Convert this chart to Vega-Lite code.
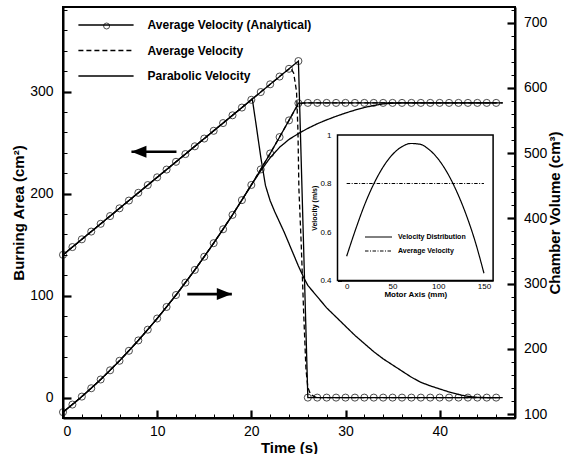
{
  "$schema": "https://vega.github.io/schema/vega-lite/v6.json",
  "width": 452,
  "height": 411,
  "autosize": {"type": "none"},
  "padding": {"left": 63, "top": 7, "right": 54, "bottom": 36},
  "background": "white",
  "config": {
    "font": "Liberation Sans",
    "view": {"stroke": "black", "strokeWidth": 2},
    "axis": {"domainColor": "black", "tickColor": "black", "labelColor": "black", "titleColor": "black", "grid": false}
  },
  "datasets": {
    "area": [
      {"series": "Average Velocity (Analytical)", "t": 0, "A": 140},
      {"series": "Average Velocity (Analytical)", "t": 1, "A": 147.6},
      {"series": "Average Velocity (Analytical)", "t": 2, "A": 155.2},
      {"series": "Average Velocity (Analytical)", "t": 3, "A": 162.8},
      {"series": "Average Velocity (Analytical)", "t": 4, "A": 170.4},
      {"series": "Average Velocity (Analytical)", "t": 5, "A": 178},
      {"series": "Average Velocity (Analytical)", "t": 6, "A": 185.6},
      {"series": "Average Velocity (Analytical)", "t": 7, "A": 193.2},
      {"series": "Average Velocity (Analytical)", "t": 8, "A": 200.8},
      {"series": "Average Velocity (Analytical)", "t": 9, "A": 208.4},
      {"series": "Average Velocity (Analytical)", "t": 10, "A": 216},
      {"series": "Average Velocity (Analytical)", "t": 11, "A": 223.6},
      {"series": "Average Velocity (Analytical)", "t": 12, "A": 231.2},
      {"series": "Average Velocity (Analytical)", "t": 13, "A": 238.8},
      {"series": "Average Velocity (Analytical)", "t": 14, "A": 246.4},
      {"series": "Average Velocity (Analytical)", "t": 15, "A": 254},
      {"series": "Average Velocity (Analytical)", "t": 16, "A": 261.6},
      {"series": "Average Velocity (Analytical)", "t": 17, "A": 269.2},
      {"series": "Average Velocity (Analytical)", "t": 18, "A": 276.8},
      {"series": "Average Velocity (Analytical)", "t": 19, "A": 284.4},
      {"series": "Average Velocity (Analytical)", "t": 20, "A": 292},
      {"series": "Average Velocity (Analytical)", "t": 21, "A": 299.6},
      {"series": "Average Velocity (Analytical)", "t": 22, "A": 307.2},
      {"series": "Average Velocity (Analytical)", "t": 23, "A": 314.8},
      {"series": "Average Velocity (Analytical)", "t": 24, "A": 322.4},
      {"series": "Average Velocity (Analytical)", "t": 25, "A": 330},
      {"series": "Average Velocity (Analytical)", "t": 26, "A": 0},
      {"series": "Average Velocity (Analytical)", "t": 27, "A": 0},
      {"series": "Average Velocity (Analytical)", "t": 28, "A": 0},
      {"series": "Average Velocity (Analytical)", "t": 29, "A": 0},
      {"series": "Average Velocity (Analytical)", "t": 30, "A": 0},
      {"series": "Average Velocity (Analytical)", "t": 31, "A": 0},
      {"series": "Average Velocity (Analytical)", "t": 32, "A": 0},
      {"series": "Average Velocity (Analytical)", "t": 33, "A": 0},
      {"series": "Average Velocity (Analytical)", "t": 34, "A": 0},
      {"series": "Average Velocity (Analytical)", "t": 35, "A": 0},
      {"series": "Average Velocity (Analytical)", "t": 36, "A": 0},
      {"series": "Average Velocity (Analytical)", "t": 37, "A": 0},
      {"series": "Average Velocity (Analytical)", "t": 38, "A": 0},
      {"series": "Average Velocity (Analytical)", "t": 39, "A": 0},
      {"series": "Average Velocity (Analytical)", "t": 40, "A": 0},
      {"series": "Average Velocity (Analytical)", "t": 41, "A": 0},
      {"series": "Average Velocity (Analytical)", "t": 42, "A": 0},
      {"series": "Average Velocity (Analytical)", "t": 43, "A": 0},
      {"series": "Average Velocity (Analytical)", "t": 44, "A": 0},
      {"series": "Average Velocity (Analytical)", "t": 45, "A": 0},
      {"series": "Average Velocity (Analytical)", "t": 46, "A": 0},
      {"series": "Average Velocity", "t": 0, "A": 140},
      {"series": "Average Velocity", "t": 23.8, "A": 320.9},
      {"series": "Average Velocity", "t": 24.2, "A": 323},
      {"series": "Average Velocity", "t": 24.5, "A": 318},
      {"series": "Average Velocity", "t": 24.8, "A": 300},
      {"series": "Average Velocity", "t": 24.95, "A": 262},
      {"series": "Average Velocity", "t": 25.05, "A": 205},
      {"series": "Average Velocity", "t": 25.3, "A": 150},
      {"series": "Average Velocity", "t": 25.55, "A": 85},
      {"series": "Average Velocity", "t": 25.8, "A": 28},
      {"series": "Average Velocity", "t": 26, "A": 10},
      {"series": "Average Velocity", "t": 26.3, "A": 3},
      {"series": "Average Velocity", "t": 26.8, "A": 0.5},
      {"series": "Average Velocity", "t": 27.2, "A": 0},
      {"series": "Average Velocity", "t": 46.7, "A": 0},
      {"series": "Parabolic Velocity", "t": 0, "A": 140},
      {"series": "Parabolic Velocity", "t": 20, "A": 292},
      {"series": "Parabolic Velocity", "t": 20.1, "A": 293},
      {"series": "Parabolic Velocity", "t": 20.5, "A": 268},
      {"series": "Parabolic Velocity", "t": 21, "A": 236},
      {"series": "Parabolic Velocity", "t": 21.5, "A": 208},
      {"series": "Parabolic Velocity", "t": 22, "A": 193},
      {"series": "Parabolic Velocity", "t": 22.5, "A": 182},
      {"series": "Parabolic Velocity", "t": 23, "A": 172},
      {"series": "Parabolic Velocity", "t": 23.5, "A": 162},
      {"series": "Parabolic Velocity", "t": 24, "A": 151},
      {"series": "Parabolic Velocity", "t": 24.5, "A": 140},
      {"series": "Parabolic Velocity", "t": 25, "A": 129},
      {"series": "Parabolic Velocity", "t": 25.6, "A": 117},
      {"series": "Parabolic Velocity", "t": 26, "A": 110},
      {"series": "Parabolic Velocity", "t": 27, "A": 99},
      {"series": "Parabolic Velocity", "t": 28, "A": 88},
      {"series": "Parabolic Velocity", "t": 29, "A": 79},
      {"series": "Parabolic Velocity", "t": 30, "A": 70},
      {"series": "Parabolic Velocity", "t": 31, "A": 61},
      {"series": "Parabolic Velocity", "t": 32, "A": 53},
      {"series": "Parabolic Velocity", "t": 33, "A": 45},
      {"series": "Parabolic Velocity", "t": 34, "A": 38},
      {"series": "Parabolic Velocity", "t": 35, "A": 32},
      {"series": "Parabolic Velocity", "t": 36, "A": 26},
      {"series": "Parabolic Velocity", "t": 37, "A": 20},
      {"series": "Parabolic Velocity", "t": 38, "A": 15},
      {"series": "Parabolic Velocity", "t": 39, "A": 11.5},
      {"series": "Parabolic Velocity", "t": 40, "A": 8.5},
      {"series": "Parabolic Velocity", "t": 41, "A": 5.5},
      {"series": "Parabolic Velocity", "t": 42, "A": 3},
      {"series": "Parabolic Velocity", "t": 43, "A": 1.2},
      {"series": "Parabolic Velocity", "t": 44, "A": 0.3},
      {"series": "Parabolic Velocity", "t": 45, "A": 0},
      {"series": "Parabolic Velocity", "t": 46.7, "A": 0}
    ],
    "volume": [
      {"series": "Average Velocity (Analytical)", "t": 0, "V": 103},
      {"series": "Average Velocity (Analytical)", "t": 1, "V": 114.6},
      {"series": "Average Velocity (Analytical)", "t": 2, "V": 126.8},
      {"series": "Average Velocity (Analytical)", "t": 3, "V": 139.6},
      {"series": "Average Velocity (Analytical)", "t": 4, "V": 153},
      {"series": "Average Velocity (Analytical)", "t": 5, "V": 167.1},
      {"series": "Average Velocity (Analytical)", "t": 6, "V": 181.7},
      {"series": "Average Velocity (Analytical)", "t": 7, "V": 197},
      {"series": "Average Velocity (Analytical)", "t": 8, "V": 212.9},
      {"series": "Average Velocity (Analytical)", "t": 9, "V": 229.4},
      {"series": "Average Velocity (Analytical)", "t": 10, "V": 246.5},
      {"series": "Average Velocity (Analytical)", "t": 11, "V": 264.2},
      {"series": "Average Velocity (Analytical)", "t": 12, "V": 282.5},
      {"series": "Average Velocity (Analytical)", "t": 13, "V": 301.5},
      {"series": "Average Velocity (Analytical)", "t": 14, "V": 321},
      {"series": "Average Velocity (Analytical)", "t": 15, "V": 341.2},
      {"series": "Average Velocity (Analytical)", "t": 16, "V": 362},
      {"series": "Average Velocity (Analytical)", "t": 17, "V": 383.3},
      {"series": "Average Velocity (Analytical)", "t": 18, "V": 405.3},
      {"series": "Average Velocity (Analytical)", "t": 19, "V": 428},
      {"series": "Average Velocity (Analytical)", "t": 20, "V": 451.2},
      {"series": "Average Velocity (Analytical)", "t": 21, "V": 475},
      {"series": "Average Velocity (Analytical)", "t": 22, "V": 499.5},
      {"series": "Average Velocity (Analytical)", "t": 23, "V": 524.6},
      {"series": "Average Velocity (Analytical)", "t": 24, "V": 550.2},
      {"series": "Average Velocity (Analytical)", "t": 25, "V": 576.5},
      {"series": "Average Velocity (Analytical)", "t": 26, "V": 577},
      {"series": "Average Velocity (Analytical)", "t": 27, "V": 577},
      {"series": "Average Velocity (Analytical)", "t": 28, "V": 577},
      {"series": "Average Velocity (Analytical)", "t": 29, "V": 577},
      {"series": "Average Velocity (Analytical)", "t": 30, "V": 577},
      {"series": "Average Velocity (Analytical)", "t": 31, "V": 577},
      {"series": "Average Velocity (Analytical)", "t": 32, "V": 577},
      {"series": "Average Velocity (Analytical)", "t": 33, "V": 577},
      {"series": "Average Velocity (Analytical)", "t": 34, "V": 577},
      {"series": "Average Velocity (Analytical)", "t": 35, "V": 577},
      {"series": "Average Velocity (Analytical)", "t": 36, "V": 577},
      {"series": "Average Velocity (Analytical)", "t": 37, "V": 577},
      {"series": "Average Velocity (Analytical)", "t": 38, "V": 577},
      {"series": "Average Velocity (Analytical)", "t": 39, "V": 577},
      {"series": "Average Velocity (Analytical)", "t": 40, "V": 577},
      {"series": "Average Velocity (Analytical)", "t": 41, "V": 577},
      {"series": "Average Velocity (Analytical)", "t": 42, "V": 577},
      {"series": "Average Velocity (Analytical)", "t": 43, "V": 577},
      {"series": "Average Velocity (Analytical)", "t": 44, "V": 577},
      {"series": "Average Velocity (Analytical)", "t": 45, "V": 577},
      {"series": "Average Velocity (Analytical)", "t": 46, "V": 577},
      {"series": "Average Velocity", "t": 0, "V": 103},
      {"series": "Average Velocity", "t": 2, "V": 126.8},
      {"series": "Average Velocity", "t": 4, "V": 153},
      {"series": "Average Velocity", "t": 6, "V": 181.7},
      {"series": "Average Velocity", "t": 8, "V": 212.9},
      {"series": "Average Velocity", "t": 10, "V": 246.5},
      {"series": "Average Velocity", "t": 12, "V": 282.5},
      {"series": "Average Velocity", "t": 14, "V": 321},
      {"series": "Average Velocity", "t": 16, "V": 362},
      {"series": "Average Velocity", "t": 18, "V": 405.3},
      {"series": "Average Velocity", "t": 20, "V": 451.2},
      {"series": "Average Velocity", "t": 22, "V": 499.5},
      {"series": "Average Velocity", "t": 24, "V": 550.2},
      {"series": "Average Velocity", "t": 24.5, "V": 563},
      {"series": "Average Velocity", "t": 25, "V": 574.5},
      {"series": "Average Velocity", "t": 25.5, "V": 577},
      {"series": "Average Velocity", "t": 46.7, "V": 577},
      {"series": "Parabolic Velocity", "t": 0, "V": 103},
      {"series": "Parabolic Velocity", "t": 2, "V": 126.8},
      {"series": "Parabolic Velocity", "t": 4, "V": 153},
      {"series": "Parabolic Velocity", "t": 6, "V": 181.7},
      {"series": "Parabolic Velocity", "t": 8, "V": 212.9},
      {"series": "Parabolic Velocity", "t": 10, "V": 246.5},
      {"series": "Parabolic Velocity", "t": 12, "V": 282.5},
      {"series": "Parabolic Velocity", "t": 14, "V": 321},
      {"series": "Parabolic Velocity", "t": 16, "V": 362},
      {"series": "Parabolic Velocity", "t": 18, "V": 405.3},
      {"series": "Parabolic Velocity", "t": 20, "V": 451.2},
      {"series": "Parabolic Velocity", "t": 21, "V": 473},
      {"series": "Parabolic Velocity", "t": 22, "V": 493},
      {"series": "Parabolic Velocity", "t": 23, "V": 509},
      {"series": "Parabolic Velocity", "t": 24, "V": 521},
      {"series": "Parabolic Velocity", "t": 25, "V": 530},
      {"series": "Parabolic Velocity", "t": 26, "V": 538},
      {"series": "Parabolic Velocity", "t": 27, "V": 545},
      {"series": "Parabolic Velocity", "t": 28, "V": 551},
      {"series": "Parabolic Velocity", "t": 29, "V": 556.5},
      {"series": "Parabolic Velocity", "t": 30, "V": 561.5},
      {"series": "Parabolic Velocity", "t": 31, "V": 566},
      {"series": "Parabolic Velocity", "t": 32, "V": 570},
      {"series": "Parabolic Velocity", "t": 33, "V": 573},
      {"series": "Parabolic Velocity", "t": 34, "V": 575.5},
      {"series": "Parabolic Velocity", "t": 35, "V": 576.5},
      {"series": "Parabolic Velocity", "t": 36, "V": 577},
      {"series": "Parabolic Velocity", "t": 46.7, "V": 577}
    ],
    "arrows": [
      {"dir": "left", "tail": 12.05, "tip": 7.27, "A": 241},
      {"dir": "right", "tail": 13.2, "tip": 17.93, "A": 101.5}
    ],
    "inset": [
      {"curve": "Velocity Distribution", "x": 0, "v": 0.5},
      {"curve": "Velocity Distribution", "x": 10, "v": 0.613},
      {"curve": "Velocity Distribution", "x": 20, "v": 0.716},
      {"curve": "Velocity Distribution", "x": 30, "v": 0.801},
      {"curve": "Velocity Distribution", "x": 40, "v": 0.869},
      {"curve": "Velocity Distribution", "x": 50, "v": 0.919},
      {"curve": "Velocity Distribution", "x": 60, "v": 0.951},
      {"curve": "Velocity Distribution", "x": 70, "v": 0.965},
      {"curve": "Velocity Distribution", "x": 80, "v": 0.962},
      {"curve": "Velocity Distribution", "x": 90, "v": 0.94},
      {"curve": "Velocity Distribution", "x": 100, "v": 0.901},
      {"curve": "Velocity Distribution", "x": 110, "v": 0.844},
      {"curve": "Velocity Distribution", "x": 120, "v": 0.769},
      {"curve": "Velocity Distribution", "x": 130, "v": 0.677},
      {"curve": "Velocity Distribution", "x": 140, "v": 0.566},
      {"curve": "Velocity Distribution", "x": 150, "v": 0.43},
      {"curve": "Average Velocity", "x": 0, "v": 0.8},
      {"curve": "Average Velocity", "x": 150, "v": 0.8}
    ],
    "box": [{"x0": -10, "x1": 160, "v0": 0.4, "v1": 1}]
  },
  "layer": [
    {
      "data": {"name": "area"},
      "mark": {"type": "line", "color": "black", "strokeWidth": 1.3},
      "encoding": {
        "x": {"field": "t", "type": "quantitative", "scale": {"domain": [0, 48], "nice": false, "zero": false},
          "axis": {"title": "Time (s)", "values": [0,2,4,6,8,10,12,14,16,18,20,22,24,26,28,30,32,34,36,38,40,42,44,46,48],
            "labelExpr": "datum.value % 10 === 0 ? datum.label : ''",
            "tickSize": {"condition": {"test": "datum.value % 10 === 0", "value": -8}, "value": -4},
            "tickWidth": {"condition": {"test": "datum.value % 10 === 0", "value": 2.2}, "value": 1},
            "domainWidth": 2, "labelFontSize": 14, "labelPadding": 14,
            "titleFontSize": 15, "titleFontWeight": "bold", "titlePadding": 2}},
        "y": {"field": "A", "type": "quantitative", "scale": {"domain": [-20, 383], "nice": false, "zero": false},
          "axis": {"title": "Burning Area (cm²)", "values": [-20,0,20,40,60,80,100,120,140,160,180,200,220,240,260,280,300,320,340,360,380],
            "labelExpr": "datum.value % 100 === 0 ? datum.label : ''",
            "tickSize": {"condition": {"test": "datum.value % 100 === 0", "value": -8}, "value": -4},
            "tickWidth": {"condition": {"test": "datum.value % 100 === 0", "value": 2.2}, "value": 1},
            "domainWidth": 2, "labelFontSize": 14, "labelPadding": 18,
            "titleFontSize": 15, "titleFontWeight": "bold", "titlePadding": 3}},
        "strokeDash": {"field": "series", "type": "nominal",
          "scale": {"domain": ["Average Velocity (Analytical)", "Average Velocity", "Parabolic Velocity"], "range": [[1, 0], [5, 3], [1, 0]]},
          "legend": {"title": null, "orient": "none", "legendX": 36, "legendY": 11, "direction": "vertical", "padding": 0, "rowPadding": 12.5,
            "symbolType": "M-4.6,0L4.6,0", "symbolSize": 144, "symbolStrokeWidth": 1.3, "symbolStrokeColor": "black", "symbolFillColor": "transparent",
            "labelFontSize": 12, "labelFontWeight": "bold", "labelOffset": 34.6, "labelColor": "black", "labelLimit": 300}}
      }
    },
    {
      "data": {"name": "area"},
      "transform": [{"filter": "datum.series === 'Average Velocity (Analytical)'"}],
      "mark": {"type": "point", "filled": false, "color": "black", "size": 50, "strokeWidth": 1},
      "encoding": {
        "x": {"field": "t", "type": "quantitative", "scale": {"domain": [0, 48], "nice": false, "zero": false}, "axis": null},
        "y": {"field": "A", "type": "quantitative", "scale": {"domain": [-20, 383], "nice": false, "zero": false}, "axis": null},
        "shape": {"field": "series", "type": "nominal", "scale": {"domain": ["Average Velocity (Analytical)"], "range": ["circle"]},
          "legend": {"title": null, "orient": "none", "legendX": 38.6, "legendY": 14, "padding": 0, "labelExpr": "''",
            "symbolSize": 36, "symbolStrokeWidth": 1, "symbolStrokeColor": "black", "symbolFillColor": "white"}}
      }
    },
    {
      "data": {"name": "arrows"},
      "mark": {"type": "rule", "color": "black", "strokeWidth": 2.6},
      "encoding": {
        "x": {"field": "tail", "type": "quantitative", "scale": {"domain": [0, 48], "nice": false, "zero": false}, "axis": null},
        "x2": {"field": "tip"},
        "y": {"field": "A", "type": "quantitative", "scale": {"domain": [-20, 383], "nice": false, "zero": false}, "axis": null}
      }
    },
    {
      "data": {"name": "arrows"},
      "mark": {"type": "point", "filled": true, "color": "black", "size": 225, "opacity": 1, "strokeWidth": 0},
      "encoding": {
        "x": {"field": "tip", "type": "quantitative", "scale": {"domain": [0, 48], "nice": false, "zero": false}, "axis": null},
        "y": {"field": "A", "type": "quantitative", "scale": {"domain": [-20, 383], "nice": false, "zero": false}, "axis": null},
        "shape": {"field": "dir", "type": "nominal", "scale": {"domain": ["left", "right"], "range": ["M0,0L2,-0.8L2,0.8Z", "M0,0L-2,-0.8L-2,0.8Z"]}, "legend": null}
      }
    },
    {
      "data": {"name": "volume"},
      "mark": {"type": "line", "color": "black", "strokeWidth": 1.3},
      "encoding": {
        "x": {"field": "t", "type": "quantitative", "scale": {"domain": [0, 48], "nice": false, "zero": false}, "axis": null},
        "y": {"field": "V", "type": "quantitative", "scale": {"domain": [94, 724], "nice": false, "zero": false},
          "axis": {"orient": "right", "title": "Chamber Volume (cm³)", "values": [100,120,140,160,180,200,220,240,260,280,300,320,340,360,380,400,420,440,460,480,500,520,540,560,580,600,620,640,660,680,700,720],
            "labelExpr": "datum.value % 100 === 0 ? datum.label : ''",
            "tickSize": {"condition": {"test": "datum.value % 100 === 0", "value": -8}, "value": -4},
            "tickWidth": {"condition": {"test": "datum.value % 100 === 0", "value": 2.2}, "value": 1},
            "domainWidth": 2, "labelFontSize": 14, "labelPadding": 16.5,
            "titleFontSize": 15, "titleFontWeight": "bold", "titleAngle": 270, "titleBaseline": "top", "titlePadding": 1}},
        "strokeDash": {"field": "series", "type": "nominal",
          "scale": {"domain": ["Average Velocity (Analytical)", "Average Velocity", "Parabolic Velocity"], "range": [[1, 0], [5, 3], [1, 0]]},
          "legend": null}
      }
    },
    {
      "data": {"name": "volume"},
      "transform": [{"filter": "datum.series === 'Average Velocity (Analytical)'"}],
      "mark": {"type": "point", "shape": "circle", "filled": false, "color": "black", "size": 50, "strokeWidth": 1},
      "encoding": {
        "x": {"field": "t", "type": "quantitative", "scale": {"domain": [0, 48], "nice": false, "zero": false}, "axis": null},
        "y": {"field": "V", "type": "quantitative", "scale": {"domain": [94, 724], "nice": false, "zero": false}, "axis": null}
      }
    },
    {
      "data": {"name": "box"},
      "mark": {"type": "rect", "fill": "white", "stroke": "black", "strokeWidth": 1.5},
      "encoding": {
        "x": {"field": "x0", "type": "quantitative", "scale": {"domain": [-10, 160], "range": [274.5, 430.1], "nice": false, "zero": false}, "axis": null},
        "x2": {"field": "x1"},
        "y": {"field": "v0", "type": "quantitative", "scale": {"domain": [0.4, 1], "range": [273.5, 128], "nice": false, "zero": false}, "axis": null},
        "y2": {"field": "v1"}
      }
    },
    {
      "data": {"name": "inset"},
      "mark": {"type": "line", "color": "black", "strokeWidth": 1.2, "interpolate": "monotone"},
      "encoding": {
        "x": {"field": "x", "type": "quantitative", "scale": {"domain": [-10, 160], "range": [274.5, 430.1], "nice": false, "zero": false},
          "axis": {"orient": "bottom", "offset": -137.5, "title": "Motor Axis (mm)", "values": [0,12.5,25,37.5,50,62.5,75,87.5,100,112.5,125,137.5,150],
            "labelExpr": "datum.value % 50 === 0 ? datum.label : ''",
            "tickSize": {"condition": {"test": "datum.value % 50 === 0", "value": -4}, "value": -2},
            "tickWidth": 1, "domainWidth": 1.5, "labelFontSize": 8, "labelPadding": 5.5,
            "titleFontSize": 8, "titleFontWeight": "bold", "titlePadding": 0}},
        "y": {"field": "v", "type": "quantitative", "scale": {"domain": [0.4, 1], "range": [273.5, 128], "nice": false, "zero": false},
          "axis": {"orient": "left", "offset": -274.5, "title": "Velocity (m/s)", "values": [0.4,0.45,0.5,0.55,0.6,0.65,0.7,0.75,0.8,0.85,0.9,0.95,1],
            "labelExpr": "datum.value === 0.4 ? '0.4' : datum.value === 0.6 ? '0.6' : datum.value === 0.8 ? '0.8' : datum.value === 1 ? '1' : ''",
            "tickSize": {"condition": {"test": "datum.value === 0.4 || datum.value === 0.6 || datum.value === 0.8 || datum.value === 1", "value": -4}, "value": -2},
            "tickWidth": 1, "domainWidth": 1.5, "labelFontSize": 8, "labelPadding": 10.5,
            "titleFontSize": 7, "titleFontWeight": "bold", "titlePadding": 2}},
        "strokeDash": {"field": "curve", "type": "nominal",
          "scale": {"domain": ["Velocity Distribution", "Average Velocity"], "range": [[1, 0], [3.5, 1.5, 1, 1.5]]},
          "legend": {"title": null, "orient": "none", "legendX": 312, "legendY": 226.5, "direction": "vertical", "padding": 0, "rowPadding": 6,
            "symbolType": "M-4.5,0L4.5,0", "symbolSize": 36, "symbolStrokeWidth": 1, "symbolStrokeColor": "black", "symbolFillColor": "transparent",
            "labelFontSize": 7, "labelFontWeight": "bold", "labelOffset": 16, "labelColor": "black"}}
      }
    }
  ],
  "resolve": {
    "scale": {"x": "independent", "y": "independent", "strokeDash": "independent", "shape": "independent"},
    "axis": {"x": "independent", "y": "independent"},
    "legend": {"strokeDash": "independent", "shape": "independent"}
  }
}
